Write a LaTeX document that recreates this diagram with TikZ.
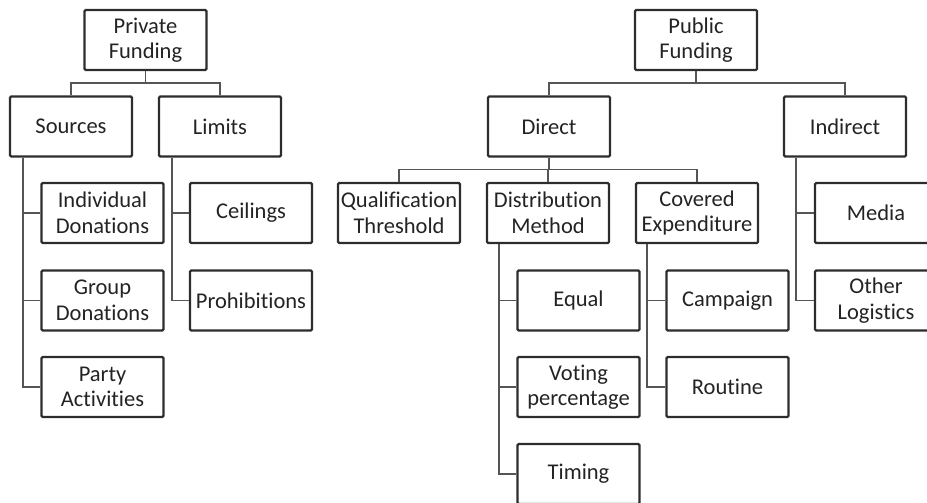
\documentclass[tikz,border=0pt]{standalone}
\usepackage{fontspec}
\setmainfont{Carlito}[RawFeature={-liga;-clig;-dlig}]
\usepackage{tikz}
\usetikzlibrary{positioning,calc}
\definecolor{boxline}{RGB}{45,45,45}
\definecolor{linkline}{RGB}{85,85,85}
\definecolor{boxtext}{RGB}{35,35,35}

\begin{document}
\begin{tikzpicture}[x=1pt, y=1pt,
    box/.style={draw=boxline, line width=2.2pt, rounded corners=1.2pt, minimum width=122pt,
      minimum height=60pt, inner sep=0pt, align=center, text=boxtext,
      font=\fontsize{22.5}{25.5}\selectfont},
    link/.style={draw=linkline, line width=1.7pt}]
  \clip (0,0) rectangle (927,-503);
  \node[box] (pf) at (145.5,-40) {Private\\Funding};
  \node[box] (src) at (71,-126.5) {Sources};
  \node[box] (lim) at (220,-126.5) {Limits};
  \node[box] (ind) at (102.5,-213) {Individual\\Donations};
  \node[box] (grp) at (102.5,-300.5) {Group\\Donations};
  \node[box] (pty) at (102.5,-387) {Party\\Activities};
  \node[box] (ceil) at (251,-213) {Ceilings};
  \node[box] (proh) at (251,-300.5) {Prohibitions};

  \node[box] (pub) at (696,-40) {Public\\Funding};
  \node[box] (dir) at (549,-126.5) {Direct};
  \node[box] (indir) at (845,-126.5) {Indirect};
  \node[box] (qual) at (399,-213) {Qualification\\Threshold};
  \node[box] (dist) at (548,-213) {Distribution\\Method};
  \node[box] (cov) at (697,-213) {Covered\\Expenditure};
  \node[box] (equal) at (578.5,-300.5) {Equal};
  \node[box] (vote) at (578.5,-387) {Voting\\percentage};
  \node[box] (tim) at (578.5,-474) {Timing};
  \node[box] (camp) at (727.5,-300.5) {Campaign};
  \node[box] (rout) at (727.5,-387) {Routine};
  \node[box] (media) at (876,-213) {Media};
  \node[box] (logi) at (876,-300.5) {Other\\Logistics};

  \draw[link] (pf.south) -- ++(0,-12) -| (src.north);
  \draw[link] (pf.south) -- ++(0,-12) -| (lim.north);
  \draw[link] ([xshift=14pt]src.south west) |- (ind.west);
  \draw[link] ([xshift=14pt]src.south west) |- (grp.west);
  \draw[link] ([xshift=14pt]src.south west) |- (pty.west);
  \draw[link] ([xshift=14pt]lim.south west) |- (ceil.west);
  \draw[link] ([xshift=14pt]lim.south west) |- (proh.west);

  \draw[link] (pub.south) -- ++(0,-12) -| (dir.north);
  \draw[link] (pub.south) -- ++(0,-12) -| (indir.north);
  \draw[link] (dir.south) -- ++(0,-12) -| (qual.north);
  \draw[link] (dir.south) -- ++(0,-12) -| (dist.north);
  \draw[link] (dir.south) -- ++(0,-12) -| (cov.north);
  \draw[link] ([xshift=13pt]dist.south west) |- (equal.west);
  \draw[link] ([xshift=13pt]dist.south west) |- (vote.west);
  \draw[link] ([xshift=13pt]dist.south west) |- (tim.west);
  \draw[link] ([xshift=12pt]cov.south west) |- (camp.west);
  \draw[link] ([xshift=12pt]cov.south west) |- (rout.west);
  \draw[link] ([xshift=13pt]indir.south west) |- (media.west);
  \draw[link] ([xshift=13pt]indir.south west) |- (logi.west);
\end{tikzpicture}
\end{document}
